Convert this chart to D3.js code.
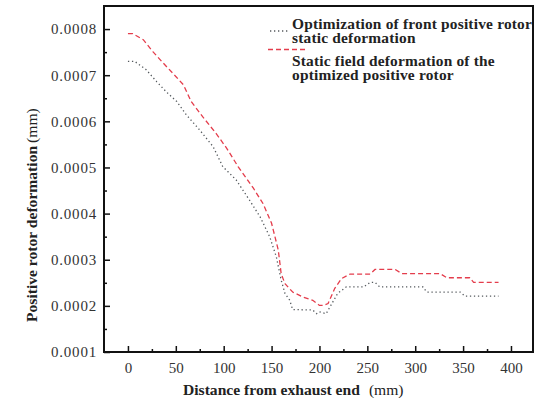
<!DOCTYPE html>
<html>
<head>
<meta charset="utf-8">
<script src="https://cdn.jsdelivr.net/npm/d3@7"></script>
<style>
  body { margin: 0; background: #fff; }
  text { font-family: 'Liberation Serif', 'DejaVu Serif', serif; }
</style>
</head>
<body>
<div id="chart"></div>
<script>
// data

let beforeDistance = [0, 7, 19, 30, 40, 51, 61, 75, 89, 99, 113, 127, 138, 148, 155, 160, 164, 169, 172, 193, 197, 200, 207, 213, 219, 228, 246, 253, 258, 263, 308, 312, 347, 352, 387]
let beforeValues = [0.00073, 0.00073, 0.000712, 0.000686, 0.000664, 0.000643, 0.000614, 0.000581, 0.000545, 0.000502, 0.000473, 0.000429, 0.000393, 0.00035, 0.000306, 0.000256, 0.000227, 0.000212, 0.000192, 0.000191, 0.000183, 0.000187, 0.000183, 0.000205, 0.000227, 0.000241, 0.000241, 0.000251, 0.000251, 0.000241, 0.000241, 0.00023, 0.00023, 0.000221, 0.000221]

let afterDistance = [0, 5, 16, 26, 37, 47, 58, 66, 78, 92, 103, 115, 131, 141, 150, 157, 160, 164, 172, 183, 193, 200, 204, 209, 216, 223, 232, 253, 258, 279, 286, 326, 333, 357, 361, 387]
let afterValues = [0.00079, 0.00079, 0.000777, 0.000751, 0.000726, 0.000704, 0.000679, 0.000643, 0.00061, 0.000574, 0.000542, 0.000502, 0.000455, 0.000422, 0.000379, 0.000321, 0.00027, 0.000248, 0.00023, 0.000219, 0.000212, 0.000201, 0.000201, 0.000205, 0.000238, 0.000259, 0.000269, 0.000269, 0.000279, 0.000279, 0.00027, 0.00027, 0.000261, 0.000261, 0.000251, 0.000251]

let xTicks = [0, 50, 100, 150, 200, 250, 300, 350, 400]
let xMinorTicks = [25, 75, 125, 175, 225, 275, 325, 375]
let yTicks = [0.0001, 0.0002, 0.0003, 0.0004, 0.0005, 0.0006, 0.0007, 0.0008]
let yMinorTicks = [0.00015, 0.00025, 0.00035, 0.00045, 0.00055, 0.00065, 0.00075]

let legendLabels = [
  ['Optimization of front positive rotor', 'static deformation'],
  ['Static field deformation of the', 'optimized positive rotor']
]

// margins / size

let margin = { top: 6, left: 104, right: 7, bottom: 46 }
let width = 540 - margin.left - margin.right
let height = 398 - margin.top - margin.bottom

let svg = d3
  .select('#chart')
  .append('svg')
  .attr('width', 540)
  .attr('height', 398)

let g = svg
  .append('g')
  .attr('transform', `translate(${margin.left},${margin.top})`)

let xPositionScale = d3.scaleLinear().domain([-25, 423]).range([0, width])
let yPositionScale = d3.scaleLinear().domain([0.0001, 0.00085]).range([height, 0])

let line = d3
  .line()
  .x(d => xPositionScale(d[0]))
  .y(d => yPositionScale(d[1]))

let beforeData = beforeDistance.map((d, i) => [d, beforeValues[i]])
let afterData = afterDistance.map((d, i) => [d, afterValues[i]])

g.append('path')
  .datum(beforeData)
  .attr('d', line)
  .attr('fill', 'none')
  .attr('stroke', '#555a5e')
  .attr('stroke-width', 1.3)
  .attr('stroke-dasharray', '1.3,2.7')

g.append('path')
  .datum(afterData)
  .attr('d', line)
  .attr('fill', 'none')
  .attr('stroke', '#e43d4c')
  .attr('stroke-width', 1.3)
  .attr('stroke-dasharray', '5,3')

// axes, ticks point inward

let xAxis = d3
  .axisBottom(xPositionScale)
  .tickValues(xTicks)
  .tickSize(-6)
  .tickPadding(10)

g.append('g')
  .attr('class', 'axis x-axis')
  .attr('transform', `translate(0,${height})`)
  .call(xAxis)

g.append('g')
  .attr('class', 'axis x-minor')
  .attr('transform', `translate(0,${height})`)
  .call(d3.axisBottom(xPositionScale).tickValues(xMinorTicks).tickSize(-3).tickFormat(''))

let yAxis = d3
  .axisLeft(yPositionScale)
  .tickValues(yTicks)
  .tickSize(-6)
  .tickPadding(7)
  .tickFormat(d3.format('.4f'))

g.append('g')
  .attr('class', 'axis y-axis')
  .call(yAxis)

g.append('g')
  .attr('class', 'axis y-minor')
  .call(d3.axisLeft(yPositionScale).tickValues(yMinorTicks).tickSize(-3).tickFormat(''))

g.selectAll('.axis .domain').remove()
g.selectAll('.axis line').attr('stroke', '#111').attr('stroke-width', 1.5)
g.selectAll('.axis text')
  .attr('font-size', 15)
  .attr('fill', '#333')
  .style('font-family', "'Liberation Serif', serif")

g.selectAll('.y-axis text').attr('letter-spacing', 0.8)

// frame
g.append('rect')
  .attr('width', width)
  .attr('height', height)
  .attr('fill', 'none')
  .attr('stroke', '#111')
  .attr('stroke-width', 2)

// axis titles
g.append('text')
  .attr('x', 183 - margin.left)
  .attr('y', height + 43)
  .attr('font-size', 15.6)
  .attr('font-weight', 'bold')
  .attr('fill', '#222')
  .text('Distance from exhaust end')
  .append('tspan')
  .attr('dx', 9)
  .attr('font-weight', 'normal')
  .text('(mm)')

g.append('text')
  .attr('transform', `translate(${37 - margin.left},${322 - margin.top}) rotate(-90)`)
  .attr('font-size', 15.6)
  .attr('font-weight', 'bold')
  .attr('fill', '#222')
  .text('Positive rotor deformation')
  .append('tspan')
  .attr('dx', 3)
  .attr('font-weight', 'normal')
  .text('(mm)')

// legend
let legend = g.append('g').attr('class', 'legend')

legend.append('line')
  .attr('x1', 270 - margin.left).attr('x2', 290 - margin.left)
  .attr('y1', 31 - margin.top).attr('y2', 31 - margin.top)
  .attr('stroke', '#555a5e')
  .attr('stroke-width', 1.3)
  .attr('stroke-dasharray', '1.3,2.7')

legend.append('line')
  .attr('x1', 268 - margin.left).attr('x2', 306 - margin.left)
  .attr('y1', 49.5 - margin.top).attr('y2', 49.5 - margin.top)
  .attr('stroke', '#e43d4c')
  .attr('stroke-width', 1.3)
  .attr('stroke-dasharray', '5,3')

legendLabels.forEach(function(lines, i) {
  lines.forEach(function(t, j) {
    legend.append('text')
      .attr('x', 292 - margin.left)
      .attr('y', 28.5 + i * 37 + j * 14 - margin.top)
      .attr('font-size', 15.4)
      .attr('font-weight', 'bold')
      .attr('letter-spacing', 0.2)
      .attr('fill', '#222')
      .text(t)
  })
})
</script>
</body>
</html>
